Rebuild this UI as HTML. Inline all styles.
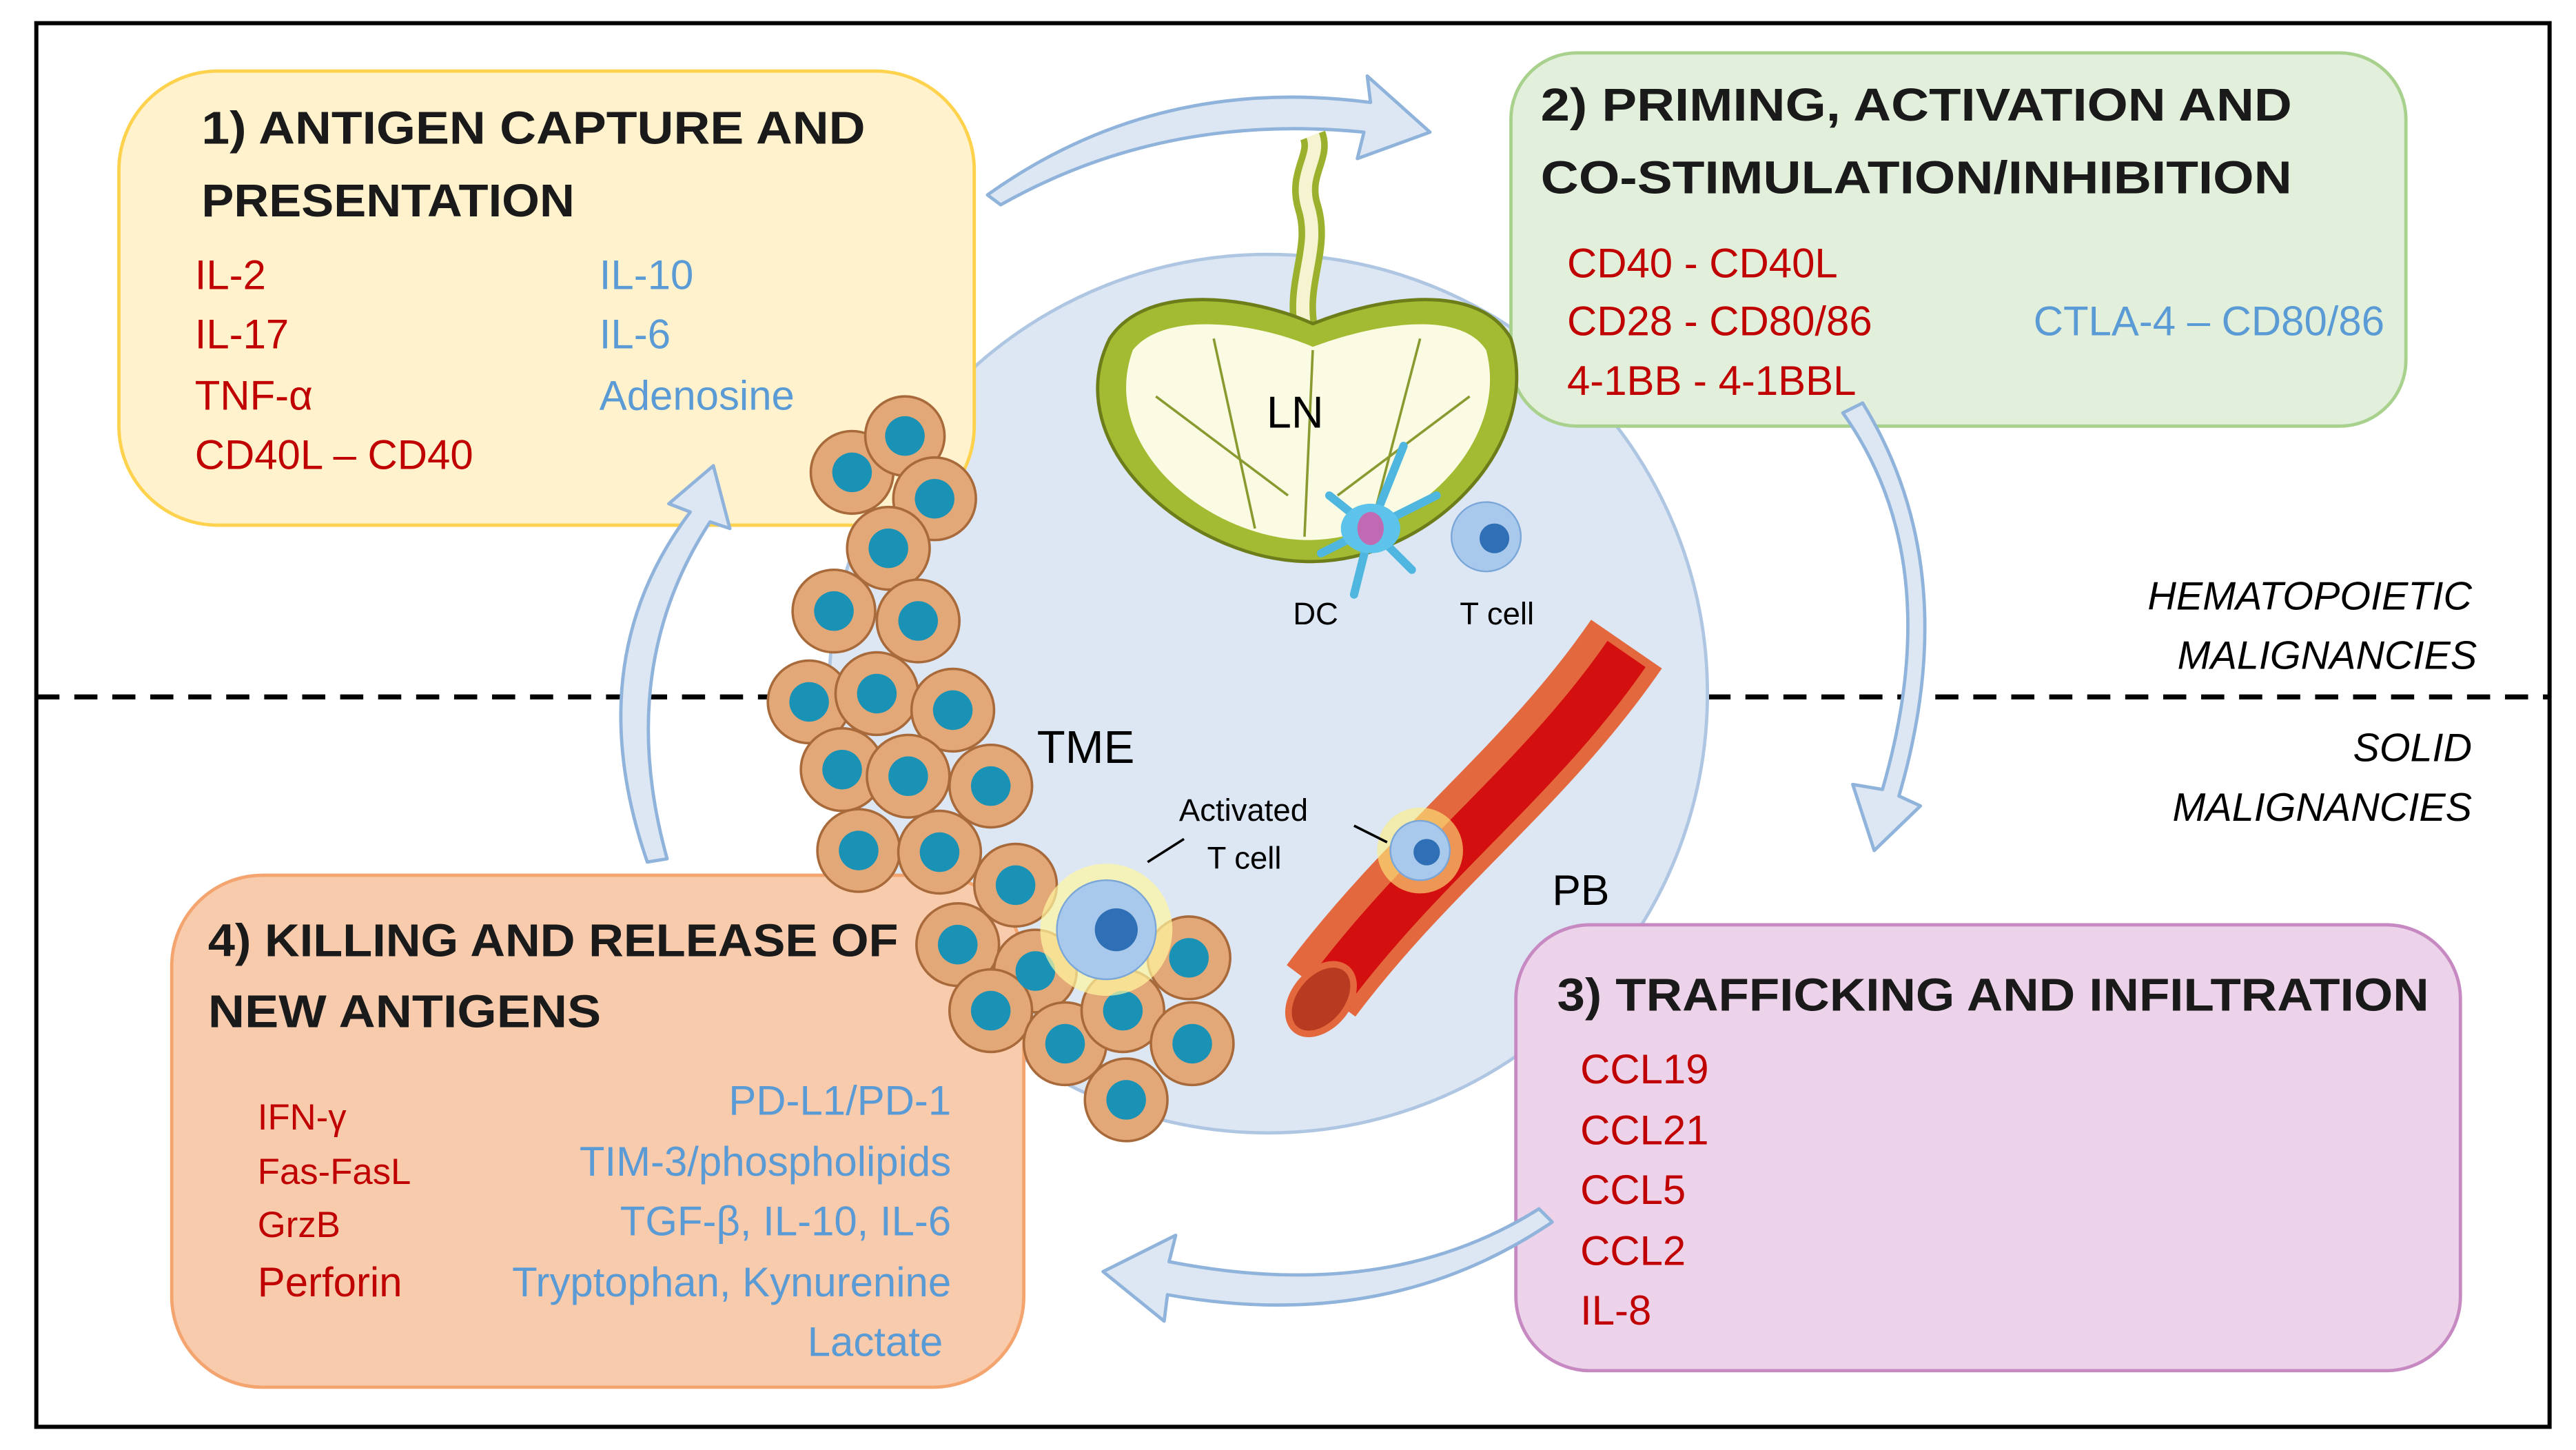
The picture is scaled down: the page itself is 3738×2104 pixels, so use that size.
<!DOCTYPE html>
<html><head><meta charset="utf-8"><style>html,body{margin:0;padding:0;background:#fff}svg{display:block}</style></head><body>
<svg width="3738" height="2104" viewBox="0 0 1560 878" xmlns="http://www.w3.org/2000/svg" font-family="Liberation Sans, sans-serif">
<rect x="0" y="0" width="1560" height="878" fill="#fff"/>
<rect x="22" y="14" width="1522" height="850" fill="none" stroke="#000" stroke-width="2.5"/>
<line x1="22" y1="422" x2="1544" y2="422" stroke="#000" stroke-width="3" stroke-dasharray="14,9"/>
<!-- big circle -->
<circle cx="768" cy="420" r="266" fill="#dce7f3" stroke="#aec6e2" stroke-width="2"/>
<!-- boxes -->
<rect x="72" y="43" width="518" height="275" rx="60" fill="#fff2cc" stroke="#ffd24d" stroke-width="2"/>
<rect x="915" y="32" width="542" height="226" rx="40" fill="#e2efda" stroke="#a9d18e" stroke-width="2"/>
<rect x="918" y="560" width="572" height="270" rx="45" fill="#edd3ea" stroke="#c789c2" stroke-width="2"/>
<rect x="104" y="530" width="516" height="310" rx="55" fill="#f8cbad" stroke="#f4a46e" stroke-width="2"/>
<!-- arrows -->
<g fill="#dce7f3" stroke="#8fb3da" stroke-width="2" stroke-linejoin="round">
<path d="M598,118 Q700,45 830,62 L828,46 L866,80 L822,96 L826,80 Q705,68 606,124 Z"/>
<path d="M1116,250 Q1180,340 1140,478 L1122,475 L1135,515 L1163,488 L1150,482 Q1190,345 1128,244 Z"/>
<path d="M932,732 Q840,790 708,764 L712,748 L668,770 L705,800 L707,784 Q840,808 940,740 Z"/>
<path d="M392,522 Q350,400 418,310 L405,305 L432,282 L442,320 L430,316 Q372,405 404,520 Z"/>
</g>
<!-- LN -->
<path d="M790,198 C785,170 800,150 792,125 C786,105 800,95 795,82" fill="none" stroke="#9bb12e" stroke-width="16"/>
<path d="M790,198 C785,170 800,150 792,125 C786,105 800,95 795,82" fill="none" stroke="#f6f3d0" stroke-width="8"/>
<path d="M672,205 C640,270 720,338 790,340 C865,342 935,270 915,205 C895,170 835,180 795,196 C760,180 695,170 672,205 Z" fill="#a3bb32" stroke="#6d7d1a" stroke-width="2"/>
<path d="M686,212 C665,270 730,325 790,327 C855,328 915,268 900,212 C885,188 835,195 795,210 C760,195 705,188 686,212 Z" fill="#fbfbe4"/>
<g stroke="#8a9a30" stroke-width="1.5" fill="none"><path d="M795,212 L790,325"/><path d="M735,205 L760,320"/><path d="M860,205 L830,320"/><path d="M700,240 L780,300"/><path d="M890,240 L810,300"/></g>
<!-- DC -->
<g stroke="#4fb6e0" stroke-width="5" stroke-linecap="round"><line x1="830" y1="320" x2="805" y2="300"/><line x1="830" y1="320" x2="850" y2="270"/><line x1="830" y1="320" x2="870" y2="300"/><line x1="830" y1="320" x2="820" y2="360"/><line x1="830" y1="320" x2="855" y2="345"/><line x1="830" y1="320" x2="800" y2="335"/></g>
<ellipse cx="830" cy="320" rx="18" ry="15" fill="#5ec3ea"/><ellipse cx="830" cy="320" rx="8" ry="10" fill="#c06ab4"/>
<circle cx="900" cy="325" r="21" fill="#a8c8ec" stroke="#7aa6d8"/><circle cx="905" cy="326" r="9" fill="#2e6fb5"/>
<!-- vessel -->
<path d="M800,600 C860,520 930,470 985,390" fill="none" stroke="#e3683e" stroke-width="52" stroke-linecap="butt"/>
<path d="M808,596 C866,520 934,470 985,396" fill="none" stroke="#d40f0f" stroke-width="28"/>
<ellipse cx="800" cy="605" rx="16" ry="24" transform="rotate(40 800 605)" fill="#b83a20" stroke="#e3683e" stroke-width="4"/>
<!-- cells -->
<g stroke="#a86a3a" stroke-width="1.5">
<g fill="#e3a878">
<circle cx="516" cy="286" r="25"/><circle cx="548" cy="264" r="24"/><circle cx="566" cy="302" r="25"/><circle cx="538" cy="332" r="25"/><circle cx="505" cy="370" r="25"/><circle cx="556" cy="376" r="25"/><circle cx="490" cy="425" r="25"/><circle cx="531" cy="420" r="25"/><circle cx="577" cy="430" r="25"/><circle cx="510" cy="466" r="25"/><circle cx="550" cy="470" r="25"/><circle cx="600" cy="476" r="25"/><circle cx="520" cy="515" r="25"/><circle cx="569" cy="516" r="25"/><circle cx="615" cy="536" r="25"/><circle cx="580" cy="572" r="25"/><circle cx="627" cy="588" r="25"/><circle cx="600" cy="612" r="25"/><circle cx="645" cy="632" r="25"/><circle cx="680" cy="612" r="25"/><circle cx="720" cy="580" r="25"/><circle cx="722" cy="632" r="25"/><circle cx="682" cy="666" r="25"/></g>
</g>
<g fill="#1a92b6">
<circle cx="516" cy="286" r="12"/><circle cx="548" cy="264" r="12"/><circle cx="566" cy="302" r="12"/><circle cx="538" cy="332" r="12"/><circle cx="505" cy="370" r="12"/><circle cx="556" cy="376" r="12"/><circle cx="490" cy="425" r="12"/><circle cx="531" cy="420" r="12"/><circle cx="577" cy="430" r="12"/><circle cx="510" cy="466" r="12"/><circle cx="550" cy="470" r="12"/><circle cx="600" cy="476" r="12"/><circle cx="520" cy="515" r="12"/><circle cx="569" cy="516" r="12"/><circle cx="615" cy="536" r="12"/><circle cx="580" cy="572" r="12"/><circle cx="627" cy="588" r="12"/><circle cx="600" cy="612" r="12"/><circle cx="645" cy="632" r="12"/><circle cx="680" cy="612" r="12"/><circle cx="720" cy="580" r="12"/><circle cx="722" cy="632" r="12"/><circle cx="682" cy="666" r="12"/></g>
<!-- activated T cells -->
<circle cx="670" cy="563" r="40" fill="#fff7a0" opacity="0.7"/>
<circle cx="670" cy="563" r="30" fill="#a8c8ec" stroke="#7aa6d8"/><circle cx="676" cy="563" r="13" fill="#2e6fb5"/>
<circle cx="860" cy="515" r="26" fill="#fff080" opacity="0.6"/>
<circle cx="860" cy="515" r="18" fill="#a8c8ec" stroke="#7aa6d8"/><circle cx="864" cy="516" r="8" fill="#2e6fb5"/>
<line x1="695" y1="522" x2="717" y2="508" stroke="#000" stroke-width="1.5"/>
<line x1="820" y1="500" x2="840" y2="510" stroke="#000" stroke-width="1.5"/>
<!-- labels -->
<g fill="#000">
<text x="767" y="259" font-size="27">LN</text>
<text x="783" y="378" font-size="19">DC</text>
<text x="884" y="378" font-size="19">T cell</text>
<text x="628" y="462" font-size="28">TME</text>
<text x="714" y="497" font-size="19">Activated</text>
<text x="731" y="526" font-size="19">T cell</text>
<text x="940" y="548" font-size="26">PB</text>
<g font-style="italic" font-size="24" text-anchor="end">
<text x="1497" y="369">HEMATOPOIETIC</text><text x="1500" y="405">MALIGNANCIES</text>
<text x="1497" y="461">SOLID</text><text x="1497" y="497">MALIGNANCIES</text></g>
</g>
<g font-weight="bold" font-size="28" fill="#1a1a1a">
<text x="122" y="87" textLength="402" lengthAdjust="spacingAndGlyphs">1) ANTIGEN CAPTURE AND</text>
<text x="122" y="131" textLength="226" lengthAdjust="spacingAndGlyphs">PRESENTATION</text>
<text x="933" y="73" textLength="455" lengthAdjust="spacingAndGlyphs">2) PRIMING, ACTIVATION AND</text>
<text x="933" y="117" textLength="455" lengthAdjust="spacingAndGlyphs">CO-STIMULATION/INHIBITION</text>
<text x="943" y="612" textLength="528" lengthAdjust="spacingAndGlyphs">3) TRAFFICKING AND INFILTRATION</text>
<text x="126" y="579" textLength="418" lengthAdjust="spacingAndGlyphs">4) KILLING AND RELEASE OF</text>
<text x="126" y="622" textLength="238" lengthAdjust="spacingAndGlyphs">NEW ANTIGENS</text>
</g>
<g font-size="25" fill="#c00000">
<text x="118" y="175">IL-2</text><text x="118" y="211">IL-17</text><text x="118" y="248">TNF-α</text><text x="118" y="284">CD40L – CD40</text>
<text x="949" y="168">CD40 - CD40L</text><text x="949" y="203">CD28 - CD80/86</text><text x="949" y="239">4-1BB - 4-1BBL</text>
<text x="957" y="656">CCL19</text><text x="957" y="693">CCL21</text><text x="957" y="729">CCL5</text><text x="957" y="766">CCL2</text><text x="957" y="802">IL-8</text>
<text x="156" y="684" font-size="22">IFN-γ</text><text x="156" y="717" font-size="22">Fas-FasL</text><text x="156" y="749" font-size="22">GrzB</text><text x="156" y="785">Perforin</text>
</g>
<g font-size="25" fill="#5b9bd5">
<text x="363" y="175">IL-10</text><text x="363" y="211">IL-6</text><text x="363" y="248">Adenosine</text>
<text x="1444" y="203" text-anchor="end">CTLA-4 – CD80/86</text>
<g text-anchor="end"><text x="576" y="675">PD-L1/PD-1</text><text x="576" y="712">TIM-3/phospholipids</text><text x="576" y="748">TGF-β, IL-10, IL-6</text><text x="576" y="785">Tryptophan, Kynurenine</text><text x="571" y="821">Lactate</text></g>
</g>
</svg>
</body></html>
